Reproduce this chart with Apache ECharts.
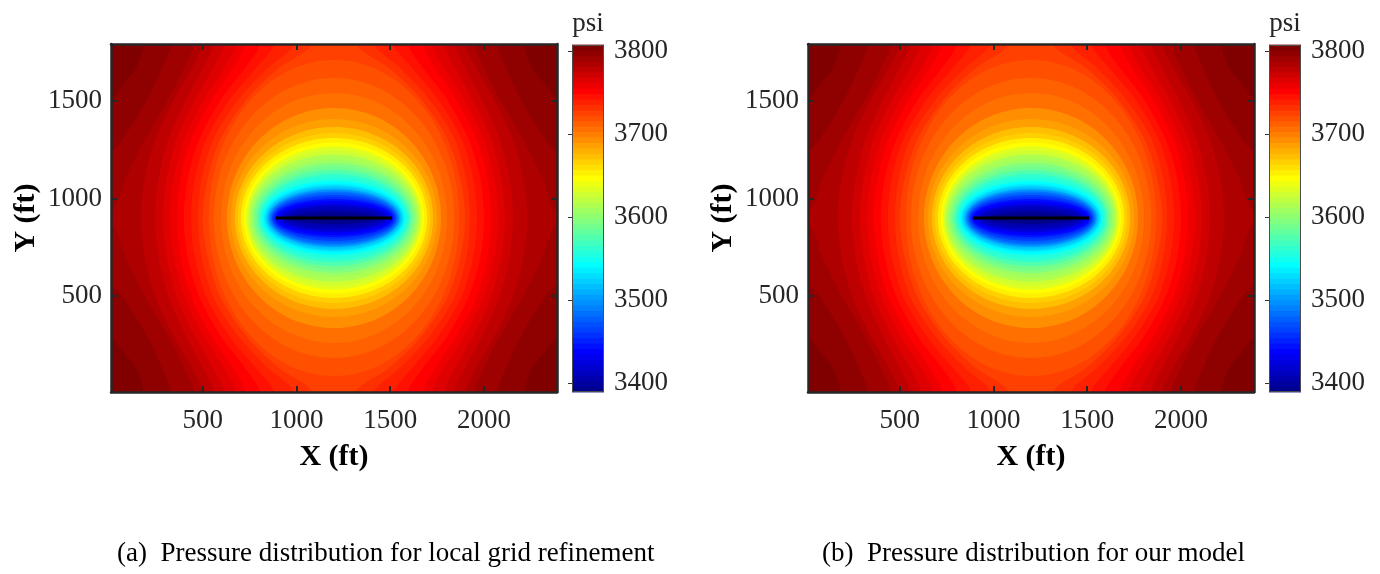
<!DOCTYPE html>
<html>
<head>
<meta charset="utf-8">
<title>Pressure distribution</title>
<script src="https://cdn.jsdelivr.net/npm/echarts@6/dist/echarts.min.js"></script>
<style>
  html, body { margin: 0; padding: 0; background: #ffffff; }
  #chart { width: 1380px; height: 574px; }
</style>
</head>
<body>
<div id="chart"></div>
<script>
// ---- Reservoir domain (ft) and axis ticks ----
const xRange = [10, 2390];
const yRange = [10, 1790];
const xTicks = [500, 1000, 1500, 2000];
const yTicks = [500, 1000, 1500];

// ---- Colour scale (psi) ----
const psiRange = [3389, 3807];
const psiTicks = [3400, 3500, 3600, 3700, 3800];

// ---- Hydraulic fracture trace (ft) ----
const fractureX = [890, 1510];
const fractureY = 900;

// ---- Closed isobars around the fracture, centred on it ----
const isobarPsi        = [3400, 3410, 3420, 3430, 3440, 3450, 3460, 3470, 3480, 3490, 3500, 3510, 3520, 3530, 3540, 3550, 3560, 3570, 3580, 3590, 3600, 3610, 3620, 3630, 3640, 3650, 3660, 3670, 3680, 3690, 3700, 3710, 3716, 3722];
const isobarHalfWidth  = [235, 256, 278, 294, 310, 318, 326, 331, 336, 342, 347, 352, 358, 366, 374, 382, 390, 401, 411, 422, 433, 443, 454, 462, 470, 481, 497, 513, 529, 550, 571, 603, 641, 668];
const isobarHalfHeight = [31, 46, 61, 74, 87, 97, 107, 118, 128, 136, 143, 148, 156, 166, 176, 189, 207, 225, 246, 263, 281, 302, 325, 345, 366, 386, 409, 435, 465, 506, 563, 639, 716, 808];

// ---- Isobars reaching the top and bottom no-flow boundaries ----
// x position (ft) of each isobar at the stations below, right and left branch
const stationY = [1790, 1667, 1514, 1309, 1105, 900, 695, 491, 286, 133, 10];
const openPsi = [3729, 3735, 3742, 3748, 3755, 3761, 3768, 3774, 3781];
const openRightX = [
  [1317, 1494, 1659, 1803, 1873, 1900, 1873, 1803, 1659, 1494, 1317],
  [1414, 1552, 1702, 1841, 1905, 1926, 1905, 1841, 1702, 1552, 1414],
  [1520, 1617, 1750, 1878, 1942, 1964, 1942, 1878, 1750, 1617, 1520],
  [1595, 1675, 1798, 1916, 1980, 2001, 1980, 1916, 1798, 1675, 1595],
  [1675, 1739, 1846, 1958, 2017, 2038, 2017, 1958, 1846, 1739, 1675],
  [1723, 1787, 1889, 1996, 2054, 2076, 2054, 1996, 1889, 1787, 1723],
  [1787, 1846, 1937, 2038, 2092, 2113, 2092, 2038, 1937, 1846, 1787],
  [1841, 1900, 1985, 2081, 2135, 2156, 2135, 2081, 1985, 1900, 1841],
  [1900, 1958, 2049, 2151, 2209, 2231, 2209, 2151, 2049, 1958, 1900]
];
const openLeftX = [
  [1083, 906, 741, 597, 527, 500, 527, 597, 741, 906, 1083],
  [986, 848, 698, 559, 495, 474, 495, 559, 698, 848, 986],
  [880, 783, 650, 522, 458, 436, 458, 522, 650, 783, 880],
  [805, 725, 602, 484, 420, 399, 420, 484, 602, 725, 805],
  [725, 661, 554, 442, 383, 362, 383, 442, 554, 661, 725],
  [677, 613, 511, 404, 346, 324, 346, 404, 511, 613, 677],
  [613, 554, 463, 362, 308, 287, 308, 362, 463, 554, 613],
  [559, 500, 415, 319, 265, 244, 265, 319, 415, 500, 559],
  [500, 442, 351, 249, 191, 169, 191, 249, 351, 442, 500]
];

// ---- Corner isobars (high pressure pockets), edge to edge ----
const cornerPsi = [3787, 3794, 3800];
const cornerTopRight = [
  [[1948, 1790], [2001, 1667], [2081, 1514], [2204, 1309], [2311, 1105], [2390, 931]],
  [[2070, 1790], [2118, 1667], [2193, 1514], [2289, 1360], [2390, 1243]],
  [[2215, 1790], [2257, 1667], [2321, 1591], [2390, 1514]]
];
const cornerBottomRight = [
  [[1948, 10], [2001, 133], [2081, 286], [2204, 491], [2311, 695], [2390, 869]],
  [[2070, 10], [2118, 133], [2193, 286], [2289, 440], [2390, 557]],
  [[2215, 10], [2257, 133], [2321, 209], [2390, 286]]
];
const cornerBottomLeft = [
  [[452, 10], [399, 133], [319, 286], [196, 491], [89, 695], [10, 869]],
  [[330, 10], [282, 133], [207, 286], [111, 440], [10, 557]],
  [[185, 10], [143, 133], [79, 209], [10, 286]]
];
const cornerTopLeft = [
  [[452, 1790], [399, 1667], [319, 1514], [196, 1309], [89, 1105], [10, 931]],
  [[330, 1790], [282, 1667], [207, 1514], [111, 1360], [10, 1243]],
  [[185, 1790], [143, 1667], [79, 1591], [10, 1514]]
];

// ---- Panels: both runs give the same map, so they share the isobars ----
const panelCaptions = [
  '(a)  Pressure distribution for local grid refinement',
  '(b)  Pressure distribution for our model'
];

// MATLAB-style jet colormap with m entries
function jetMap(m) {
  const n = Math.ceil(m / 4);
  const u = [];
  for (let i = 1; i <= n; i++) u.push(i / n);
  for (let i = 1; i < n; i++) u.push(1);
  for (let i = n; i >= 1; i--) u.push(i / n);
  const g0 = Math.ceil(n / 2) - (m % 4 === 1 ? 1 : 0);
  const cols = Array.from({ length: m }, () => [0, 0, 0]);
  u.forEach((val, k) => {
    const gi = g0 + k + 1, ri = gi + n, bi = gi - n;
    if (ri >= 1 && ri <= m) cols[ri - 1][0] = val;
    if (gi >= 1 && gi <= m) cols[gi - 1][1] = val;
    if (bi >= 1 && bi <= m) cols[bi - 1][2] = val;
  });
  return cols.map(c => 'rgb(' + c.map(v => Math.round(v * 255)).join(',') + ')');
}
const JET = jetMap(64);
function jetAt(v) {
  let i = Math.floor((v - psiRange[0]) / (psiRange[1] - psiRange[0]) * JET.length);
  return JET[Math.max(0, Math.min(JET.length - 1, i))];
}

const allLevels = isobarPsi.concat(openPsi, cornerPsi).slice().sort((a, b) => a - b);
function colorBelow(L) {
  const i = allLevels.indexOf(L);
  const lo = i > 0 ? allLevels[i - 1] : psiRange[0];
  return jetAt((lo + L) / 2);
}
function colorAbove(L) {
  const i = allLevels.indexOf(L);
  const hi = i < allLevels.length - 1 ? allLevels[i + 1] : psiRange[1];
  return jetAt((L + hi) / 2);
}

const xMid = (xRange[0] + xRange[1]) / 2, yMid = (yRange[0] + yRange[1]) / 2;
const OUT = 200;

// close a corner isobar with points beyond the plot edges (clipped away)
function cornerPolygon(curve) {
  const first = curve[0], last = curve[curve.length - 1];
  const yOut = first[1] > yMid ? yRange[1] + OUT : yRange[0] - OUT;
  const xOut = last[0] > xMid ? xRange[1] + OUT : xRange[0] - OUT;
  return [[first[0], yOut]].concat(curve, [[xOut, last[1]], [xOut, yOut]]);
}
// region below an open isobar: between its left and right branches
function openPolygon(i) {
  const r = openRightX[i], l = openLeftX[i];
  const top = yRange[1] + OUT, bot = yRange[0] - OUT;
  const pts = [[r[0], top]];
  r.forEach((x, j) => pts.push([x, stationY[j]]));
  pts.push([r[r.length - 1], bot]);
  pts.push([l[l.length - 1], bot]);
  for (let j = l.length - 1; j >= 0; j--) pts.push([l[j], stationY[j]]);
  pts.push([l[0], top]);
  return pts;
}

// layers, painted back to front
const outerLayers = [{ rect: true, color: colorAbove(openPsi[openPsi.length - 1]) }];
cornerPsi.forEach((L, i) => {
  [cornerTopRight, cornerBottomRight, cornerBottomLeft, cornerTopLeft].forEach(set => {
    outerLayers.push({ poly: cornerPolygon(set[i]), color: colorAbove(L) });
  });
});
const openLayers = [];
for (let i = openPsi.length - 1; i >= 0; i--) {
  openLayers.push({ poly: openPolygon(i), color: colorBelow(openPsi[i]) });
}
const closedLayers = [];
for (let i = isobarPsi.length - 1; i >= 0; i--) {
  closedLayers.push({ rx: isobarHalfWidth[i], ry: isobarHalfHeight[i], color: colorBelow(isobarPsi[i]) });
}
const fractureMidX = (fractureX[0] + fractureX[1]) / 2;

function layerRenderer(layers) {
  return function (params, api) {
    const it = layers[params.dataIndex];
    if (it.rect) {
      const a = api.coord([xRange[0], yRange[1]]), b = api.coord([xRange[1], yRange[0]]);
      return { type: 'rect', shape: { x: a[0], y: a[1], width: b[0] - a[0], height: b[1] - a[1] }, style: { fill: it.color } };
    }
    if (it.poly) {
      return { type: 'polygon', shape: { points: it.poly.map(q => api.coord(q)), smooth: 0.3 }, style: { fill: it.color } };
    }
    const c = api.coord([fractureMidX, fractureY]);
    const s = api.size([it.rx, it.ry]);
    return { type: 'ellipse', shape: { cx: c[0], cy: c[1], rx: s[0], ry: s[1] }, style: { fill: it.color } };
  };
}

const FONT = 'Liberation Serif';
const AXIS_COLOR = '#262626';
const plainNumber = v => String(v);

function frameAxis(dim, position, gridIndex, range, ticks, labelled) {
  return {
    type: 'value', gridIndex, position, min: range[0], max: range[1],
    axisLine: { show: true, onZero: false, lineStyle: { color: AXIS_COLOR, width: 2.5 } },
    axisTick: { show: true, inside: true, length: 6, customValues: ticks, lineStyle: { color: AXIS_COLOR, width: 2 } },
    axisLabel: labelled
      ? { show: true, customValues: ticks, formatter: plainNumber, margin: dim === 'x' ? 15 : 9, fontFamily: FONT, fontSize: 27, color: AXIS_COLOR }
      : { show: false },
    splitLine: { show: false },
    z: 10
  };
}

const grids = [], xAxes = [], yAxes = [], series = [], graphics = [];
const plotLefts = [111, 808], barLefts = [572, 1269], captionLefts = [117, 822];

panelCaptions.forEach((caption, k) => {
  const gi = grids.length;
  grids.push({ left: plotLefts[k], top: 44, width: 446, height: 348 });
  const xb = xAxes.length;
  xAxes.push(frameAxis('x', 'bottom', gi, xRange, xTicks, true));
  xAxes.push(frameAxis('x', 'top', gi, xRange, xTicks, false));
  const yl = yAxes.length;
  yAxes.push(frameAxis('y', 'left', gi, yRange, yTicks, true));
  yAxes.push(frameAxis('y', 'right', gi, yRange, yTicks, false));

  [outerLayers, openLayers, closedLayers].forEach(layers => {
    series.push({
      type: 'custom', xAxisIndex: xb, yAxisIndex: yl, clip: true, silent: true,
      renderItem: layerRenderer(layers),
      data: layers.map((_, i) => [xMid, yMid, i]),
      z: 2
    });
  });
  series.push({
    type: 'line', xAxisIndex: xb, yAxisIndex: yl, silent: true, symbol: 'none',
    data: [[fractureX[0], fractureY], [fractureX[1], fractureY]],
    lineStyle: { color: '#000000', width: 3 }, z: 4
  });

  // colour bar
  const bi = grids.length;
  grids.push({ left: barLefts[k], top: 45, width: 32, height: 347 });
  const bx = xAxes.length;
  xAxes.push({ type: 'value', gridIndex: bi, min: 0, max: 1, show: false });
  const by = yAxes.length;
  yAxes.push({
    type: 'value', gridIndex: bi, position: 'right', min: psiRange[0], max: psiRange[1],
    axisLine: { show: false },
    axisTick: { show: true, inside: true, length: 4, customValues: psiTicks, lineStyle: { color: '#333333', width: 1 } },
    axisLabel: { show: true, customValues: psiTicks, formatter: plainNumber, margin: 10, fontFamily: FONT, fontSize: 27, color: AXIS_COLOR },
    splitLine: { show: false },
    z: 10
  });
  const step = (psiRange[1] - psiRange[0]) / JET.length;
  series.push({
    type: 'custom', xAxisIndex: bx, yAxisIndex: by, silent: true,
    data: JET.map((_, i) => [0.5, psiRange[0] + (i + 0.5) * step, i]).concat([[0.5, psiRange[0], JET.length]]),
    renderItem: (params, api) => {
      const i = params.dataIndex;
      if (i === JET.length) {
        const a = api.coord([0, psiRange[1]]), b = api.coord([1, psiRange[0]]);
        return { type: 'rect', shape: { x: Math.round(a[0]) + 0.5, y: Math.round(a[1]) + 0.5, width: Math.round(b[0] - a[0]) - 1, height: Math.round(b[1] - a[1]) - 1 },
                 style: { fill: null, stroke: '#4d4d4d', lineWidth: 1 }, z2: 10 };
      }
      const lo = psiRange[0] + i * step, hi = lo + step;
      const a = api.coord([0, hi]), b = api.coord([1, lo]);
      return { type: 'rect', shape: { x: a[0], y: a[1] - 0.4, width: b[0] - a[0], height: b[1] - a[1] + 0.8 }, style: { fill: JET[i] } };
    },
    z: 2
  });

  // texts
  const cx = plotLefts[k] + 223;
  graphics.push({ type: 'text', x: cx, y: 457,
    style: { text: 'X (ft)', fontFamily: FONT, fontWeight: 'bold', fontSize: 30, fill: '#000000', align: 'center', verticalAlign: 'middle', textAlign: 'center', textVerticalAlign: 'middle' } });
  graphics.push({ type: 'text', x: plotLefts[k] - 85, y: 218, rotation: Math.PI / 2,
    style: { text: 'Y (ft)', fontFamily: FONT, fontWeight: 'bold', fontSize: 30, fill: '#000000', align: 'center', verticalAlign: 'middle', textAlign: 'center', textVerticalAlign: 'middle' } });
  graphics.push({ type: 'text', x: barLefts[k] + 16, y: 24,
    style: { text: 'psi', fontFamily: FONT, fontSize: 27, fill: AXIS_COLOR, align: 'center', verticalAlign: 'middle', textAlign: 'center', textVerticalAlign: 'middle' } });
  graphics.push({ type: 'text', x: captionLefts[k], y: 554,
    style: { text: caption, fontFamily: FONT, fontSize: 27, fill: '#000000', align: 'left', verticalAlign: 'middle', textAlign: 'left', textVerticalAlign: 'middle' } });
});

const chart = echarts.init(document.getElementById('chart'), null, { renderer: 'canvas' });
chart.setOption({
  animation: false,
  backgroundColor: '#ffffff',
  grid: grids,
  xAxis: xAxes,
  yAxis: yAxes,
  series: series,
  graphic: { elements: graphics }
});
</script>
</body>
</html>
